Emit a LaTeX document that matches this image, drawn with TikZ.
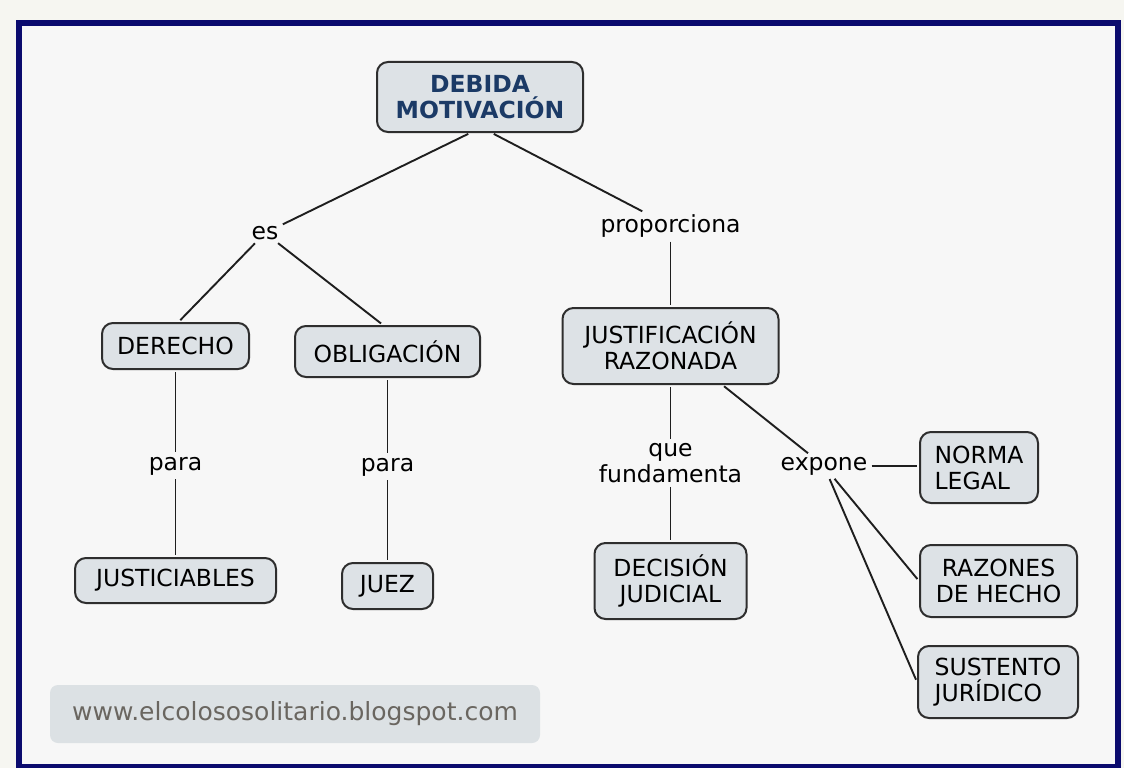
\documentclass[tikz,border=0pt]{standalone}
\usepackage{fontspec}
\setmainfont{DejaVu Sans}
\definecolor{outerbg}{HTML}{F6F6F1}
\definecolor{innerbg}{HTML}{F7F7F7}
\definecolor{framenavy}{HTML}{0B0B6E}
\definecolor{boxfill}{HTML}{DDE2E6}
\definecolor{boxline}{HTML}{2E2E2E}
\definecolor{titleblue}{HTML}{1B3A66}
\definecolor{wmfill}{HTML}{DCE1E4}
\definecolor{wmtext}{HTML}{6A6660}
\definecolor{connline}{HTML}{1E1E1E}
\newcommand{\cmfont}{\fontsize{23.5}{26}\selectfont}
\begin{document}
\begin{tikzpicture}[x=1pt,y=-1pt,
  box/.style={draw=boxline, line width=2pt, fill=boxfill, rounded corners=11pt,
    inner sep=0pt, font=\cmfont, text=black},
  lab/.style={inner sep=2pt, font=\cmfont, text=black},
  conn/.style={line width=1.9pt, draw=connline, shorten <=2pt, shorten >=2.5pt}]
\useasboundingbox (0,0) rectangle (1124,768);
\fill[outerbg] (0,0) rectangle (1124,768);
\draw[framenavy, line width=6pt, fill=innerbg] (19,23.5) rectangle (1117.5,767);

% concept boxes
\node[box, minimum width=206, minimum height=70, font=\cmfont\bfseries, text=titleblue, align=center] (top) at (480,97) {DEBIDA\\MOTIVACIÓN};
\node[box, minimum width=147, minimum height=46] (der) at (175.5,346) {DERECHO};
\node[box, minimum width=185, minimum height=51] (obl) at (387.5,351.5) {OBLIGACIÓN};
\node[box, minimum width=216, minimum height=76, align=center] (jus) at (670.5,346) {JUSTIFICACIÓN\\RAZONADA};
\node[box, minimum width=201, minimum height=45] (jsti) at (175.5,580.5) {JUSTICIABLES};
\node[box, minimum width=91, minimum height=46] (juez) at (387.5,586) {JUEZ};
\node[box, minimum width=152, minimum height=76, align=center] (dec) at (670.5,581) {DECISIÓN\\JUDICIAL};
\node[box, minimum width=118, minimum height=71, align=left] (nor) at (979,467.5) {NORMA\\LEGAL};
\node[box, minimum width=157, minimum height=72, align=center] (raz) at (998.5,581) {RAZONES\\DE HECHO};
\node[box, minimum width=160, minimum height=72, align=left] (sus) at (998,682) {SUSTENTO\\JURÍDICO};

% linking phrases
\node[lab] (es) at (265,233) {es};
\node[lab] (prop) at (670.5,226) {proporciona};
\node[lab] (para1) at (175.5,466) {para};
\node[lab] (para2) at (387.5,467) {para};
\node[lab, align=center] (que) at (670.5,463) {que\\fundamenta};
\node[lab] (exp) at (824,466) {expone};

% watermark
\node[fill=wmfill, rounded corners=8pt, minimum width=490, minimum height=58, inner sep=0pt,
  text=wmtext, font=\fontsize{25}{30}\selectfont] (wm) at (295,714) {www.elcolososolitario.blogspot.com};

% connectors
\draw[conn] ([xshift=-10pt]top.south) -- (es);
\draw[conn] ([xshift=12pt]top.south) -- (prop);
\draw[conn] (es) -- ([xshift=3pt]der.north);
\draw[conn] (es) -- ([xshift=-4.5pt]obl.north);
\draw[conn] (der) -- (para1);
\draw[conn] (para1) -- (jsti);
\draw[conn] (obl) -- (para2);
\draw[conn] (para2) -- (juez);
\draw[conn] (prop) -- (jus);
\draw[conn] (jus) -- (que);
\draw[conn] (que) -- (dec);
\draw[conn] ([xshift=52pt]jus.south) -- (exp);
\draw[conn] (exp) -- (exp -| nor.west);
\draw[conn] (exp) -- (raz.west);
\draw[conn] (exp) -- (sus.west);
\end{tikzpicture}
\end{document}
